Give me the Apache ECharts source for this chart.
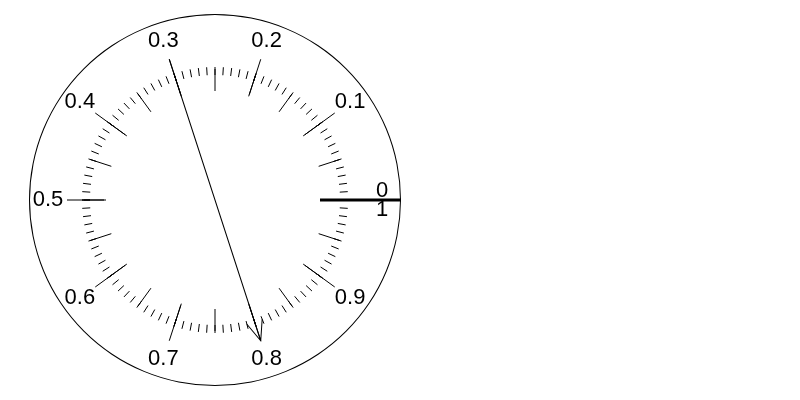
<!DOCTYPE html>
<html>
<head>
<meta charset="utf-8">
<script src="https://cdn.jsdelivr.net/npm/echarts@6/dist/echarts.min.js"></script>
<style>html,body{margin:0;padding:0;background:#fff}#c{width:800px;height:400px}</style>
</head>
<body>
<div id="c"></div>
<script>
// ---- data ----
const tickLabels = ['0','0.1','0.2','0.3','0.4','0.5','0.6','0.7','0.8','0.9','1'];
const needleValue = [0.8];   // arrow tip (tail lies opposite, at 0.3)
const startMarker = [0];     // thick reference line
const scaleMin = 0, scaleMax = 1;

const FONT = 'Liberation Sans, Arial, sans-serif';
const FS = 22;
const base = {
  type: 'gauge',
  center: [215, 200],
  radius: 186,
  startAngle: 0,
  endAngle: 360,
  clockwise: false,
  min: scaleMin,
  max: scaleMax,
  animation: false,
  silent: true,
  title: { show: false },
  detail: { show: false },
  anchor: { show: false },
  progress: { show: false }
};

const option = {
  animation: false,
  backgroundColor: '#fff',
  series: [
    Object.assign({}, base, {
      splitNumber: 10,
      axisLine: { show: true, lineStyle: { width: 1, color: [[1, '#000']] } },
      splitLine: { show: true, distance: 37, length: 37, lineStyle: { color: '#000', width: 1 } },
      axisTick: { show: true, splitNumber: 10, distance: 52, length: 8, lineStyle: { color: '#000', width: 1 } },
      axisLabel: {
        show: true, distance: -55, rotate: 0.0001, color: '#000',
        fontSize: FS, fontFamily: FONT,
        formatter: function (v) {
          const i = Math.round((v - scaleMin) / (scaleMax - scaleMin) * 10);
          if (i === 0) return '{up|' + tickLabels[0] + '}';
          if (i === 10) return '{dn|' + tickLabels[10] + '}';
          return tickLabels[i];
        },
        rich: {
          up: { padding: [0, 0, 18, 0], fontSize: FS, fontFamily: FONT, color: '#000' },
          dn: { padding: [20, 0, 0, 0], fontSize: FS, fontFamily: FONT, color: '#000' }
        }
      },
      pointer: {
        show: true,
        icon: 'path://M8 0 L8 296 M0 20 L8 0 L16 20',
        length: 296, width: 16, offsetCenter: [0, 148], keepAspect: false
      },
      itemStyle: { color: 'transparent', borderColor: '#000', borderWidth: 1 },
      data: needleValue.map(v => ({ value: v }))
    }),
    Object.assign({}, base, {
      splitNumber: 20,
      axisLine: { show: false },
      splitLine: { show: true, distance: 45, length: 22, lineStyle: { color: '#000', width: 1 } },
      axisTick: { show: false },
      axisLabel: { show: false },
      pointer: { show: false },
      data: [{ value: 0 }]
    }),
    Object.assign({}, base, {
      splitNumber: 10,
      axisLine: { show: false },
      splitLine: { show: false },
      axisTick: { show: false },
      axisLabel: { show: false },
      pointer: { show: true, icon: 'rect', length: 81, width: 3, offsetCenter: [0, -105], keepAspect: false },
      itemStyle: { color: '#000' },
      data: startMarker.map(v => ({ value: v }))
    })
  ]
};

const chart = echarts.init(document.getElementById('c'), null, { renderer: 'canvas' });
chart.setOption(option);
</script>
</body>
</html>
